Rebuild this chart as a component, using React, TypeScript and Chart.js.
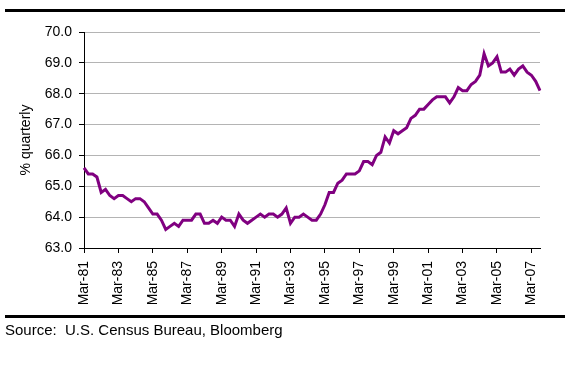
import React, { useEffect, useRef } from "react";
import { Chart, registerables } from "chart.js";

Chart.register(...registerables);

// Quarterly categories, Mar-81 .. Sep-07
const quarterMonths = ["Mar", "Jun", "Sep", "Dec"];
const firstYear = 1981;
const quarterCount = 107;
const categories: string[] = [];
for (let i = 0; i < quarterCount; i++) {
  const y = firstYear + Math.floor(i / 4);
  categories.push(`${quarterMonths[i % 4]}-${String(y % 100).padStart(2, "0")}`);
}

// Every 8th quarter gets a label
const labelEvery = 8;

// US homeownership rate, %
const homeownershipRate: number[] = [
  65.6, 65.4, 65.4, 65.3, 64.8, 64.9, 64.7, 64.6, 64.7, 64.7,
  64.6, 64.5, 64.6, 64.6, 64.5, 64.3, 64.1, 64.1, 63.9, 63.6,
  63.7, 63.8, 63.7, 63.9, 63.9, 63.9, 64.1, 64.1, 63.8, 63.8,
  63.9, 63.8, 64.0, 63.9, 63.9, 63.7, 64.1, 63.9, 63.8, 63.9,
  64.0, 64.1, 64.0, 64.1, 64.1, 64.0, 64.1, 64.3, 63.8, 64.0,
  64.0, 64.1, 64.0, 63.9, 63.9, 64.1, 64.4, 64.8, 64.8, 65.1,
  65.2, 65.4, 65.4, 65.4, 65.5, 65.8, 65.8, 65.7, 66.0, 66.1,
  66.6, 66.4, 66.8, 66.7, 66.8, 66.9, 67.2, 67.3, 67.5, 67.5,
  67.65, 67.8, 67.9, 67.9, 67.9, 67.7, 67.9, 68.2, 68.1, 68.1,
  68.3, 68.4, 68.6, 69.3, 68.9, 69.0, 69.2, 68.7, 68.7, 68.8,
  68.6, 68.8, 68.9, 68.7, 68.6, 68.4, 68.1,
];

const yMin = 63;
const yMax = 70;
const yStep = 1;

const FONT = "'Liberation Sans', Arial, sans-serif";

export default function App() {
  const canvasRef = useRef<HTMLCanvasElement | null>(null);

  useEffect(() => {
    if (!canvasRef.current) return;
    const chart = new Chart(canvasRef.current, {
      type: "line",
      data: {
        labels: categories,
        datasets: [
          {
            data: homeownershipRate,
            borderColor: "#800080",
            borderWidth: 3,
            pointRadius: 0,
            tension: 0,
            fill: false,
          },
        ],
      },
      options: {
        animation: false,
        responsive: false,
        maintainAspectRatio: false,
        layout: { padding: { left: 0, right: 35, top: 32, bottom: 0 } },
        plugins: { legend: { display: false }, tooltip: { enabled: false } },
        scales: {
          x: {
            type: "category",
            offset: false,
            grid: { drawOnChartArea: false, tickLength: 5, tickColor: "#000", lineWidth: 1 },
            border: { color: "#000", width: 1 },
            ticks: {
              autoSkip: false,
              maxRotation: 90,
              minRotation: 90,
              padding: 8,
              color: "#000",
              font: { family: FONT, size: 14 },
              callback: (_v: any, i: number) => (i % labelEvery === 0 ? categories[i] : null),
            },
            afterFit: (s: any) => {
              s.height = 126;
            },
          },
          y: {
            min: yMin,
            max: yMax,
            ticks: {
              stepSize: yStep,
              padding: 7,
              color: "#000",
              font: { family: FONT, size: 14 },
              callback: (v: any) => Number(v).toFixed(1),
            },
            grid: { color: "#b4b4b4", tickColor: "#000", tickLength: 5, lineWidth: 1 },
            border: { color: "#000", width: 1 },
            title: {
              display: true,
              text: "% quarterly",
              color: "#000",
              font: { family: FONT, size: 14 },
              padding: { top: 18, bottom: 0 },
            },
            afterFit: (s: any) => {
              s.width = 84;
            },
          },
        },
      },
    });
    return () => chart.destroy();
  }, []);

  return (
    <div style={{ position: "absolute", left: 0, top: 0, width: 575, height: 374, background: "#fff" }}>
      <canvas ref={canvasRef} width={575} height={374} style={{ display: "block", width: 575, height: 374 }} />
      <div style={{ position: "absolute", left: 5, top: 9, width: 560, height: 3, background: "#000" }} />
      <div style={{ position: "absolute", left: 5, top: 315, width: 560, height: 3, background: "#000" }} />
      <div
        style={{
          position: "absolute",
          left: 5,
          top: 321,
          fontFamily: FONT,
          fontSize: 15,
          lineHeight: "17px",
          color: "#000",
          whiteSpace: "pre",
        }}
      >
        {"Source:  U.S. Census Bureau, Bloomberg"}
      </div>
    </div>
  );
}
